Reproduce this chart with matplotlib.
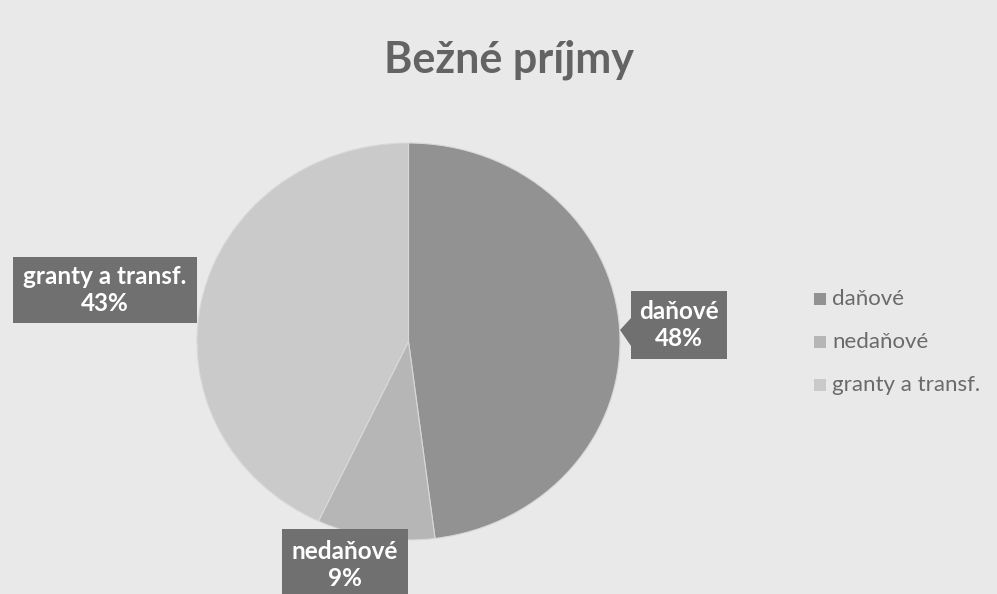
import matplotlib.pyplot as plt
from matplotlib.patches import Polygon

plt.rcParams['font.family'] = ['Lato', 'DejaVu Sans']

# data
categories = ['daňové', 'nedaňové', 'granty a transf.']
shares = [48, 9, 43]
slice_colors = ['#929292', '#b6b6b6', '#cacaca']

W, H = 997, 594
fig = plt.figure(figsize=(W / 100, H / 100), dpi=100)
fig.patch.set_facecolor('#e9e9e9')

# pie area in pixel coords (left, top, right, bottom)
pl, pt, pr, pb = 197, 143, 620, 540
ax = fig.add_axes([pl / W, 1 - pb / H, (pr - pl) / W, (pb - pt) / H])
wedges, _ = ax.pie(shares, colors=slice_colors, startangle=90, counterclock=False,
                   radius=1, wedgeprops=dict(linewidth=0.8, edgecolor='#d8d8d8'))
ax.set_aspect('auto')
ax.set_xlim(-1, 1)
ax.set_ylim(-1, 1)

fig.text(0.51, 1 - 60 / H, 'Bežné príjmy', ha='center', va='center',
         fontsize=31, fontweight='bold', color='#636363')

# data labels: (center x, center y, box half width, box half height) in px
label_box = {'daňové': (679, 325, 48, 34),
             'nedaňové': (345, 565, 63, 36),
             'granty a transf.': (105, 290, 92, 33)}
for cat, val in zip(categories, shares):
    x, y, hw, hh = label_box[cat]
    fig.patches.append(plt.Rectangle(((x - hw) / W, 1 - (y + hh) / H), 2 * hw / W, 2 * hh / H,
                                     transform=fig.transFigure, fc='#707070', ec='none'))
    fig.text(x / W, 1 - y / H, f'{cat}\n{val}%', ha='center', va='center',
             fontsize=17.5, fontweight='bold', color='white', linespacing=1.25)

# callout pointer for daňové label
tri = Polygon([(631 / W, 1 - 318 / H), (620 / W, 1 - 330 / H), (631 / W, 1 - 346 / H)],
              closed=True, transform=fig.transFigure, fc='#707070', ec='none')
fig.patches.append(tri)

# legend
ly = [299, 342, 385]
for cat, col, y in zip(categories, slice_colors, ly):
    fig.patches.append(plt.Rectangle((814 / W, 1 - (y + 6) / H), 12 / W, 12 / H,
                                     transform=fig.transFigure, fc=col, ec='none'))
    fig.text(832 / W, 1 - y / H, cat, ha='left', va='center', fontsize=16,
             color='#6a6a6a')

fig.savefig('out.png', dpi=100, facecolor=fig.get_facecolor())
